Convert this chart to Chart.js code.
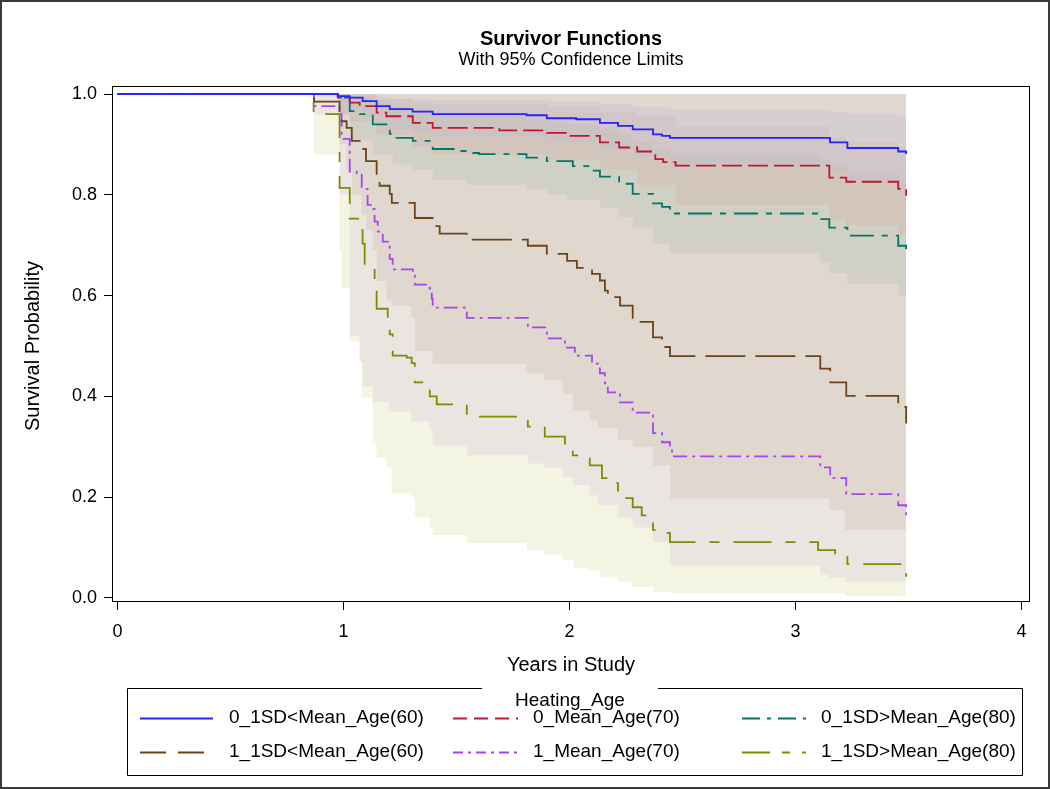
<!DOCTYPE html>
<html><head><meta charset="utf-8">
<script src="https://cdn.jsdelivr.net/npm/chart.js@4.4.0/dist/chart.umd.min.js"></script>
<style>html,body{margin:0;padding:0;background:#fff}canvas{display:block}</style>
</head><body>
<canvas id="c" width="1050" height="789"></canvas>
<script>
// ---------- data ----------
const seriesNames = ['0_1SD<Mean_Age(60)','0_Mean_Age(70)','0_1SD>Mean_Age(80)','1_1SD<Mean_Age(60)','1_Mean_Age(70)','1_1SD>Mean_Age(80)'];
const xTickValues = [0,1,2,3,4];
const yTickValues = [0,0.2,0.4,0.6,0.8,1.0];

const blueTime = [0,0.975,1.028,1.085,1.147,1.205,1.306,1.395,1.81,1.90,2.03,2.135,2.215,2.28,2.37,2.41,2.445,3.153,3.23,3.455,3.49];
const blueSurv = [1,0.996,0.993,0.986,0.976,0.970,0.965,0.960,0.958,0.952,0.950,0.943,0.937,0.930,0.920,0.917,0.913,0.904,0.893,0.886,0.881];

const redTime = [0,0.975,1.028,1.072,1.147,1.19,1.307,1.395,1.69,1.90,1.99,2.135,2.22,2.30,2.38,2.415,2.47,3.15,3.225,3.455,3.49];
const redSurv = [1,0.993,0.983,0.976,0.963,0.956,0.943,0.933,0.928,0.923,0.917,0.904,0.894,0.886,0.871,0.865,0.858,0.834,0.826,0.812,0.798];

const tealTime = [0,0.975,1.028,1.072,1.13,1.205,1.218,1.307,1.395,1.50,1.546,1.60,1.81,1.90,2.015,2.10,2.135,2.22,2.28,2.37,2.41,2.445,3.11,3.15,3.23,3.455,3.49];
const tealSurv = [1,0.993,0.966,0.960,0.940,0.921,0.913,0.907,0.891,0.887,0.883,0.881,0.874,0.867,0.857,0.848,0.836,0.822,0.802,0.783,0.776,0.763,0.752,0.735,0.719,0.699,0.683];

const brownTime = [0,0.87,0.983,0.992,1.014,1.037,1.08,1.10,1.147,1.16,1.205,1.214,1.316,1.395,1.426,1.546,1.816,1.90,1.99,2.033,2.10,2.135,2.157,2.17,2.224,2.28,2.37,2.41,2.445,3.11,3.154,3.225,3.455,3.49];
const brownSurv = [1,0.985,0.960,0.946,0.933,0.907,0.891,0.867,0.832,0.818,0.802,0.784,0.754,0.738,0.723,0.711,0.699,0.683,0.669,0.655,0.643,0.630,0.610,0.597,0.580,0.548,0.517,0.498,0.480,0.455,0.428,0.401,0.379,0.346];

const purpleTime = [0,0.87,0.983,0.992,1.028,1.059,1.081,1.107,1.13,1.138,1.152,1.174,1.196,1.205,1.218,1.307,1.316,1.382,1.391,1.395,1.546,1.816,1.90,1.98,2.024,2.10,2.135,2.157,2.17,2.224,2.28,2.37,2.41,2.445,2.454,3.11,3.154,3.225,3.455,3.49];
const purpleSurv = [1,0.976,0.960,0.911,0.846,0.842,0.812,0.780,0.772,0.747,0.727,0.707,0.697,0.673,0.652,0.642,0.622,0.614,0.594,0.576,0.556,0.537,0.515,0.497,0.481,0.465,0.446,0.426,0.408,0.388,0.368,0.327,0.309,0.295,0.281,0.259,0.238,0.206,0.184,0.158];

const oliveTime = [0,0.868,0.983,1.028,1.072,1.085,1.094,1.138,1.147,1.196,1.205,1.218,1.28,1.302,1.316,1.382,1.413,1.546,1.816,1.891,1.98,2.015,2.09,2.144,2.18,2.215,2.28,2.32,2.37,2.41,2.445,3.10,3.176,3.23,3.473,3.49];
const oliveSurv = [1,0.960,0.814,0.753,0.730,0.703,0.661,0.610,0.574,0.550,0.523,0.481,0.477,0.466,0.428,0.400,0.384,0.360,0.340,0.320,0.300,0.283,0.263,0.238,0.228,0.198,0.180,0.164,0.135,0.129,0.111,0.095,0.081,0.067,0.055,0.042];

// confidence bands
const blueBandTime = [0.975,1.085,1.147,1.205,1.306,1.395,1.90,2.135,2.28,2.445,3.153,3.23,3.455,3.49];
const blueLower = [0.97,0.955,0.94,0.93,0.925,0.915,0.905,0.89,0.875,0.86,0.845,0.83,0.815,0.80];
const blueUpper = [1.0,1.0,0.995,0.99,0.99,0.988,0.985,0.98,0.975,0.97,0.965,0.96,0.955,0.95];

const redBandTime = [0.975,1.028,1.147,1.307,1.395,1.90,2.135,2.30,2.47,3.15,3.225,3.455,3.49];
const redLower = [0.96,0.945,0.92,0.895,0.88,0.87,0.85,0.82,0.78,0.75,0.74,0.72,0.70];
const redUpper = [1.0,0.998,0.99,0.985,0.98,0.975,0.965,0.955,0.935,0.915,0.905,0.895,0.88];

const tealBandTime = [0.975,1.028,1.13,1.218,1.307,1.395,1.546,1.81,1.90,1.99,2.135,2.22,2.28,2.37,2.445,3.11,3.15,3.23,3.455,3.49];
const tealLower = [0.96,0.91,0.88,0.86,0.85,0.83,0.82,0.81,0.80,0.79,0.774,0.756,0.735,0.703,0.685,0.665,0.645,0.623,0.60,0.59];
const tealUpper = [1.0,0.995,0.985,0.975,0.97,0.96,0.955,0.95,0.945,0.94,0.93,0.92,0.905,0.89,0.88,0.87,0.86,0.845,0.83,0.815];

const brownBandTime = [0.983,1.014,1.037,1.08,1.10,1.13,1.147,1.19,1.213,1.30,1.316,1.395,1.81,1.89,1.97,2.015,2.09,2.126,2.215,2.28,2.37,2.445,3.15,3.22,3.49];
const brownLower = [0.90,0.85,0.80,0.76,0.73,0.69,0.629,0.59,0.58,0.556,0.49,0.465,0.446,0.432,0.406,0.372,0.352,0.338,0.313,0.30,0.263,0.198,0.174,0.135,0.115];

const purpleBandTime = [0.87,0.983,1.028,1.072,1.085,1.13,1.20,1.30,1.382,1.395,1.546,1.816,1.89,1.97,2.015,2.09,2.126,2.215,2.28,2.37,2.445,3.11,3.15,3.22,3.49];
const purpleLower = [0.96,0.80,0.52,0.47,0.42,0.39,0.37,0.35,0.333,0.303,0.283,0.267,0.259,0.24,0.224,0.204,0.184,0.16,0.14,0.11,0.065,0.046,0.04,0.032,0.022];

const oliveBandTime = [0.868,0.983,0.992,1.028,1.072,1.081,1.125,1.13,1.147,1.19,1.213,1.30,1.316,1.382,1.395,1.546,1.81,1.89,1.97,2.02,2.09,2.135,2.215,2.28,2.37,2.445,3.22,3.49];
const oliveLower = [0.88,0.69,0.614,0.509,0.47,0.398,0.386,0.307,0.279,0.259,0.208,0.20,0.16,0.14,0.125,0.109,0.095,0.085,0.075,0.059,0.055,0.042,0.032,0.022,0.012,0.01,0.004,0.002];

// ---------- styles ----------
const FONT = '"Liberation Sans", Arial, sans-serif';
const lineColors = ['#2424ff','#c41630','#00776b','#6b4518','#a845f0','#7f8c00'];
const plotDashes = [[],[20,6],[24,8,6,8],[40,10],[14,5,3,5],[38,14,10,14]];
const legendDashes = [[],[14,7],[18,7,4,7],[26,12],[10,5,3,5],[28,12,8,12]];

function pts(t, v){ return t.map((x,i)=>({x:x, y:v[i]})); }

const lineSets = [
  [blueTime,blueSurv],[redTime,redSurv],[tealTime,tealSurv],
  [brownTime,brownSurv],[purpleTime,purpleSurv],[oliveTime,oliveSurv]
].map((s,i)=>({
  label: seriesNames[i], data: pts(s[0],s[1]), borderColor: lineColors[i], borderWidth: 1.8,
  borderDash: plotDashes[i], stepped: 'before', pointRadius: 0, fill: false
}));

const clear = 'rgba(0,0,0,0)';
function bandPair(t, up, lo, color){
  return [
    {label:'', data: pts(t,up), borderColor: clear, borderWidth:1, stepped:'before', pointRadius:0, fill:'+1', backgroundColor: color},
    {label:'', data: pts(t,lo), borderColor: clear, borderWidth:1, stepped:'before', pointRadius:0, fill:false}
  ];
}
function bandToTop(t, lo, color){
  return {label:'', data: pts(t,lo), borderColor: clear, borderWidth:1, stepped:'before', pointRadius:0, fill:{value:1}, backgroundColor: color};
}

const datasets = [
  ...lineSets,
  ...bandPair(blueBandTime, blueUpper, blueLower, 'rgba(185,185,215,0.30)'),
  ...bandPair(redBandTime, redUpper, redLower, 'rgba(215,165,160,0.25)'),
  ...bandPair(tealBandTime, tealUpper, tealLower, 'rgba(170,185,170,0.28)'),
  bandToTop(brownBandTime, brownLower, 'rgba(199,186,166,0.30)'),
  bandToTop(purpleBandTime, purpleLower, 'rgba(199,174,218,0.22)'),
  bandToTop(oliveBandTime, oliveLower, 'rgba(200,200,110,0.20)')
];

// ---------- decorations ----------
const deco = {
  id: 'deco',
  afterDraw(chart){
    const ctx = chart.ctx, a = chart.chartArea;
    ctx.save();
    // outer border
    ctx.strokeStyle = '#3a3a3a'; ctx.lineWidth = 2;
    ctx.strokeRect(1, 1, 1048, 787);
    // plot frame
    ctx.strokeStyle = '#000'; ctx.lineWidth = 1;
    ctx.strokeRect(a.left + 0.5, a.top + 0.5, a.right - a.left - 1, a.bottom - a.top - 1);
    // titles
    ctx.fillStyle = '#000'; ctx.textAlign = 'center'; ctx.textBaseline = 'middle';
    ctx.font = 'bold 20px ' + FONT;
    ctx.fillText('Survivor Functions', 571, 39);
    ctx.font = '18px ' + FONT;
    ctx.fillText('With 95% Confidence Limits', 571, 60);
    // axis titles
    ctx.font = '20px ' + FONT;
    ctx.fillText('Years in Study', 571, 665);
    ctx.save(); ctx.translate(33, 346); ctx.rotate(-Math.PI/2);
    ctx.fillText('Survival Probability', 0, 0); ctx.restore();
    // legend box
    const L = 127, R = 1022, T = 688, B = 775;
    ctx.font = '19px ' + FONT;
    const title = 'Heating_Age';
    const cx = 570;
    ctx.beginPath();
    ctx.moveTo(482, T + 0.5); ctx.lineTo(L + 0.5, T + 0.5); ctx.lineTo(L + 0.5, B + 0.5);
    ctx.lineTo(R + 0.5, B + 0.5); ctx.lineTo(R + 0.5, T + 0.5); ctx.lineTo(658, T + 0.5);
    ctx.stroke();
    ctx.fillText(title, cx, T + 13);
    const cols = [[140,213,229],[453,518,533],[742,806,821]];
    const rows = [718, 752];
    ctx.textAlign = 'left';
    for (let i = 0; i < 6; i++){
      const c = cols[i % 3], y = rows[Math.floor(i / 3)];
      ctx.strokeStyle = lineColors[i]; ctx.lineWidth = 1.8; ctx.setLineDash(legendDashes[i]);
      ctx.beginPath(); ctx.moveTo(c[0], y + 0.5); ctx.lineTo(c[1], y + 0.5); ctx.stroke();
      ctx.setLineDash([]);
      ctx.fillStyle = '#000';
      ctx.fillText(seriesNames[i], c[2], y);
    }
    ctx.restore();
  }
};

new Chart(document.getElementById('c'), {
  type: 'line',
  data: { datasets },
  options: {
    responsive: false, animation: false, devicePixelRatio: 1,
    layout: { padding: { left: 0, right: 20, top: 86, bottom: 107 } },
    plugins: { legend: { display: false }, title: { display: false }, tooltip: { enabled: false },
               filler: { drawTime: 'beforeDatasetsDraw' } },
    scales: {
      x: {
        type: 'linear', min: -0.024, max: 4.038,
        afterBuildTicks: s => { s.ticks = xTickValues.map(v => ({ value: v })); },
        afterFit: s => { s.height = 80; },
        ticks: { color: '#000', font: { family: FONT, size: 18 }, padding: 11, callback: v => String(v) },
        grid: { drawOnChartArea: false, drawTicks: true, tickLength: 8, color: '#000' },
        border: { display: false }
      },
      y: {
        type: 'linear', min: -0.008, max: 1.016,
        afterBuildTicks: s => { s.ticks = yTickValues.map(v => ({ value: v })); },
        afterFit: s => { s.width = 112; },
        ticks: { color: '#000', font: { family: FONT, size: 18 }, padding: 7, callback: v => Number(v).toFixed(1) },
        grid: { drawOnChartArea: false, drawTicks: true, tickLength: 8, color: '#000' },
        border: { display: false }
      }
    }
  },
  plugins: [deco]
});
</script>
</body></html>
